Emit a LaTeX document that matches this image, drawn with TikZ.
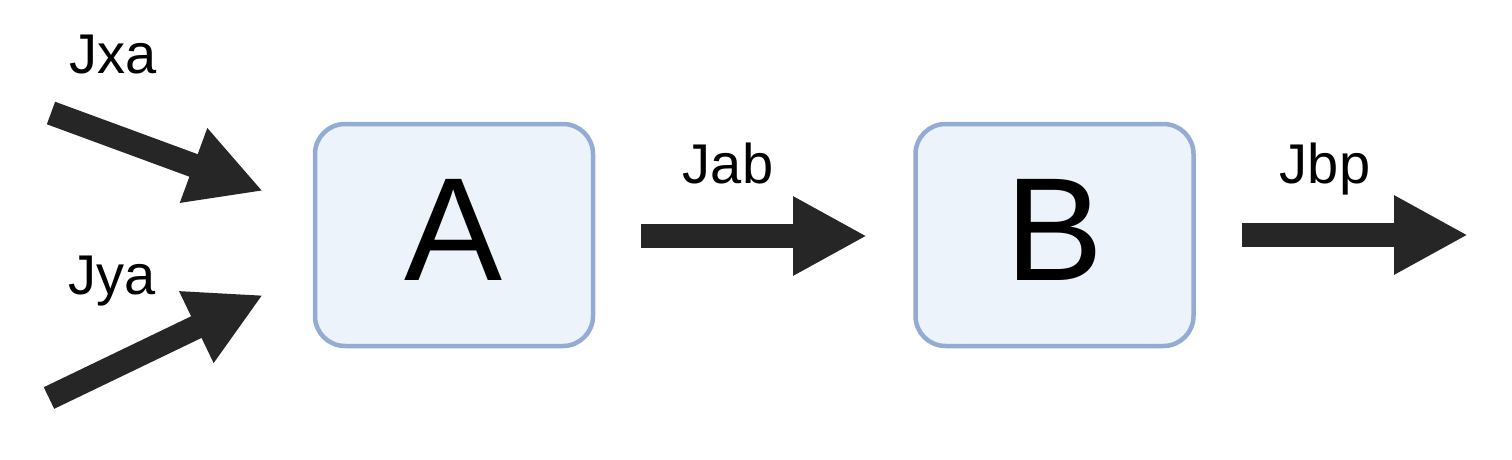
\documentclass[tikz,border=0pt]{standalone}
\usepackage{fontspec}
\setmainfont{Liberation Sans}
\usetikzlibrary{arrows.meta}
\definecolor{boxedge}{HTML}{94ACD3}
\definecolor{boxfill}{HTML}{ECF3FB}
\definecolor{arrowfill}{HTML}{262626}
\begin{document}
\begin{tikzpicture}[x=1pt,y=-1pt,
  box/.style={draw=boxedge, fill=boxfill, line width=4.5pt, rounded corners=30pt,
    minimum width=278pt, minimum height=222pt, inner sep=0pt,
    font=\fontsize{147}{147}\selectfont, text depth=10pt},
  flow/.style={draw=arrowfill, line width=24pt, line cap=butt,
    -{Triangle[length=74pt,width=74pt]}},
  lbl/.style={font=\fontsize{56}{56}\selectfont, anchor=base, inner sep=0pt}]
\useasboundingbox (0,0) rectangle (1512,459);

\node[box] (A) at (454,235) {A};
\node[box] (B) at (1054.5,235) {B};

\coordinate (xa) at (51,113);
\coordinate (ya) at (49,398);
\coordinate (ina1) at (263,191);
\coordinate (ina2) at (263,295);
\coordinate (ab1) at (641,236);
\coordinate (ab2) at (867,236);
\coordinate (bp1) at (1242,235);
\coordinate (bp2) at (1468,235);

\draw[flow] (xa) -- (ina1);
\draw[flow] (ya) -- (ina2);
\draw[flow] (ab1) -- (ab2);
\draw[flow] (bp1) -- (bp2);

\node[lbl] (lxa) at (113,73) {Jxa};
\node[lbl] (lya) at (112,294) {Jya};
\node[lbl] (lab) at (728,183) {Jab};
\node[lbl] (lbp) at (1325,183) {Jbp};
\end{tikzpicture}
\end{document}
